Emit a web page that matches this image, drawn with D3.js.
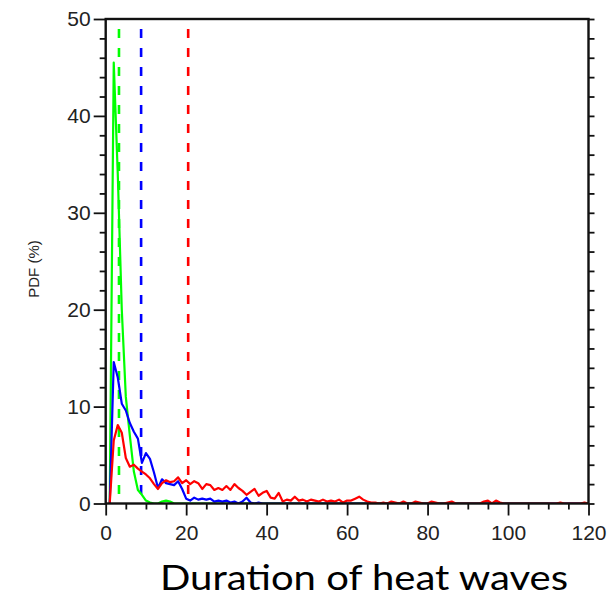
<!DOCTYPE html>
<html>
<head>
<meta charset="utf-8">
<script src="https://cdn.jsdelivr.net/npm/d3@7"></script>
<style>
  html, body { margin: 0; padding: 0; background: #fff; }
  svg { display: block; }
</style>
</head>
<body>
<svg id="chart" width="615" height="600"></svg>
<script>
// ---- data ----
const durations = d3.range(1, 121);
const greenValues = [0,45.5,34,20,11,7,3.3,1.4,0.9,0.3,0.1,0,0,0.2,0.3,0.2,0,0,0,0,
  0,0,0,0,0,0,0,0,0,0, 0,0,0,0,0,0,0,0,0,0, 0,0,0,0,0,0,0,0,0,0, 0,0,0,0,0,0,0,0,0,0,
  0,0,0,0,0,0,0,0,0,0, 0,0,0,0,0,0,0,0,0,0, 0,0,0,0,0,0,0,0,0,0, 0,0,0,0,0,0,0,0,0,0,
  0,0,0,0,0,0,0,0,0,0];
const blueValues = [0,14.6,13,10.3,9.6,8.3,7.4,6.7,4.2,5.2,4.6,3.2,1.6,2.5,2.1,2.0,1.9,2.3,1.5,0.5,
  0.3,0.6,0.4,0.5,0.4,0.5,0.2,0.3,0.2,0.3, 0.1,0.2,0,0.2,0.6,0.1,0,0.1,0,0,
  0,0,0,0,0,0,0,0,0,0, 0,0,0,0,0,0,0,0,0,0, 0,0,0,0,0,0,0,0,0,0, 0,0,0,0,0,0,0,0,0,0,
  0,0,0,0,0,0,0,0,0,0, 0,0,0,0,0,0,0,0,0,0, 0,0,0,0,0,0,0,0,0,0, 0,0,0,0,0,0,0,0,0,0];
const redValues = [0,6.5,8.1,7.3,4.7,3.8,4.0,3.6,3.3,3.0,2.6,2.0,1.5,2.1,2.4,2.2,2.3,2.7,2.1,2.4,
  2.0,2.3,2.1,1.5,2.0,1.9,1.4,1.6,1.4,1.8, 1.4,2.0,1.6,1.3,0.9,1.2,1.5,0.8,1.1,1.3,
  0.6,0.5,1.1,0.2,0.4,0.3,0.7,0.3,0.4,0.2, 0.4,0.3,0.2,0.4,0.2,0.3,0.2,0.4,0.1,0.3,
  0.3,0.5,0.7,0.4,0.2,0.1,0.1,0,0.1,0, 0.2,0.1,0,0.2,0,0,0.2,0.1,0,0,
  0.2,0.1,0,0,0.1,0.2,0,0,0,0, 0,0,0,0.2,0.3,0,0.3,0.1,0,0,
  0,0,0,0,0,0,0,0,0,0, 0,0,0.1,0,0,0,0,0,0.1,0];
const meanDurations = [3.3, 8.8, 20.5]; // green, blue, red dashed means
const seriesColors = ["#00ff00", "#0000ff", "#ff0000"];
const xTicks = [0, 20, 40, 60, 80, 100, 120];
const yTicks = [0, 10, 20, 30, 40, 50];
const xTitle = "Duration of heat waves";
const yTitle = "PDF (%)";

// ---- layout ----
const svg = d3.select("#chart");
const pL = 105.7, pR = 588.5, pT = 19, pB = 503.5;
const x = d3.scaleLinear().domain([0, 120]).range([pL, pR]);
const y = d3.scaleLinear().domain([0, 50]).range([pB, pT]);

const tickFont = "'Liberation Sans', Arial, Helvetica, sans-serif";

svg.append("defs").append("clipPath").attr("id", "clip")
  .append("rect").attr("x", pL).attr("y", pT).attr("width", pR - pL).attr("height", pB - pT);

// dashed mean lines
const dashG = svg.append("g");
meanDurations.forEach((m, i) => {
  dashG.append("line")
    .attr("x1", x(m)).attr("x2", x(m))
    .attr("y1", y(50)).attr("y2", y(0))
    .attr("stroke", seriesColors[i])
    .attr("stroke-width", 2.6)
    .attr("stroke-dasharray", "9,10")
    .attr("stroke-dashoffset", 9);
});

// curves
const line = d3.line().x((d, i) => x(durations[i])).y(d => y(d));
const curves = svg.append("g").attr("clip-path", "url(#clip)");
[greenValues, blueValues, redValues].forEach((vals, i) => {
  curves.append("path")
    .datum(vals)
    .attr("d", line)
    .attr("fill", "none")
    .attr("stroke", seriesColors[i])
    .attr("stroke-width", 2.2)
    .attr("stroke-linejoin", "round");
});

// axes
const xAxis = d3.axisBottom(x).tickValues(xTicks).tickSize(12).tickPadding(10);
const xMinor = d3.axisBottom(x).tickValues(d3.range(0, 121, 5).filter(v => v % 20 !== 0)).tickSize(6).tickFormat("");
const yAxis = d3.axisLeft(y).tickValues(yTicks).tickSize(12).tickPadding(3);
const yMinor = d3.axisLeft(y).tickValues(d3.range(0, 51, 2).filter(v => v % 10 !== 0)).tickSize(6).tickFormat("");
const yRight = d3.axisRight(y).tickValues(d3.range(0, 51, 2)).tickSize(6).tickFormat("");

function style(g) {
  g.select(".domain").remove();
  g.selectAll(".tick line").attr("stroke", "#111").attr("stroke-width", 1.8);
  g.selectAll(".tick text").attr("fill", "#222").style("font-family", tickFont).style("font-size", "21px");
}

svg.append("g").attr("transform", `translate(0,${pB})`).call(xAxis).call(style);
svg.append("g").attr("transform", `translate(0,${pB})`).call(xMinor).call(style);
svg.append("g").attr("transform", `translate(${pL},0)`).call(yAxis).call(style);
svg.append("g").attr("transform", `translate(${pL},0)`).call(yMinor).call(style);
svg.append("g").attr("transform", `translate(${pR},0)`).call(yRight).call(style);

// frame
svg.append("rect")
  .attr("x", pL).attr("y", pT).attr("width", pR - pL).attr("height", pB - pT)
  .attr("fill", "none").attr("stroke", "#111").attr("stroke-width", 2.4);

// titles
svg.append("text")
  .attr("transform", `translate(38.5,269) rotate(-90)`)
  .attr("text-anchor", "middle")
  .style("font-family", tickFont).style("font-size", "15px").attr("fill", "#222")
  .text(yTitle);

svg.append("text")
  .attr("x", 364).attr("y", 590)
  .attr("text-anchor", "middle")
  .attr("textLength", 408).attr("lengthAdjust", "spacingAndGlyphs")
  .style("font-family", "Lato, 'Open Sans', sans-serif").style("font-size", "34px").attr("fill", "#000")
  .text(xTitle);
</script>
</body>
</html>
